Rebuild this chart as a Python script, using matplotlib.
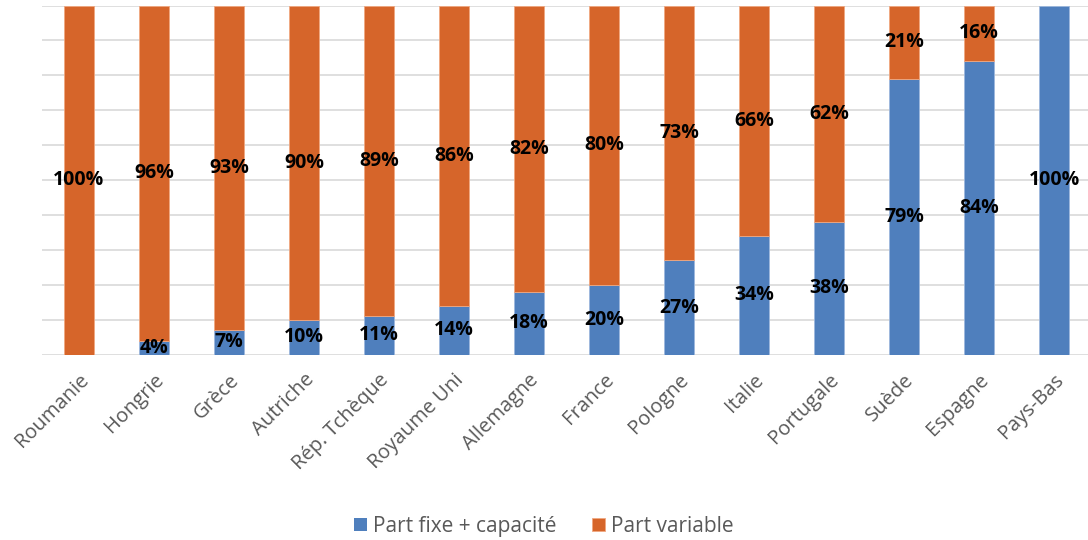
import matplotlib.pyplot as plt
import numpy as np

plt.rcParams['font.family'] = ['Open Sans', 'DejaVu Sans']

pays = ["Roumanie", "Hongrie", "Grèce", "Autriche", "Rép. Tchèque", "Royaume Uni",
        "Allemagne", "France", "Pologne", "Italie", "Portugale", "Suède", "Espagne", "Pays-Bas"]
part_fixe = [0, 4, 7, 10, 11, 14, 18, 20, 27, 34, 38, 79, 84, 100]
part_variable = [100, 96, 93, 90, 89, 86, 82, 80, 73, 66, 62, 21, 16, 0]

bleu = "#4F7FBD"
orange = "#D6652A"

fig = plt.figure(figsize=(10.88, 5.40), dpi=100)
# axe volontairement plus large que la figure (la référence est coupée à droite)
ax = fig.add_axes([41.5 / 1088, 0.3432, 1050 / 1088, 0.6466])

x = np.arange(len(pays))
fixe = np.array(part_fixe) / 100
var = np.array(part_variable) / 100
larg = 0.41
# pas de bordure sur les segments de hauteur nulle
ax.bar(x, fixe, larg, color=bleu, edgecolor="#9DB8DD",
       linewidth=[0.6 if v > 0 else 0 for v in part_fixe],
       label="Part fixe + capacité", zorder=3)
ax.bar(x, var, larg, bottom=fixe, color=orange, edgecolor="#F0A880",
       linewidth=[0.6 if v > 0 else 0 for v in part_variable],
       label="Part variable", zorder=3)

# étiquettes au centre de chaque segment
for i in range(len(pays)):
    if part_fixe[i] > 0:
        ax.text(x[i], fixe[i] / 2, f"{part_fixe[i]}%", ha="center", va="center",
                fontsize=14, fontweight="bold", color="black", zorder=4)
    if part_variable[i] > 0:
        ax.text(x[i], fixe[i] + var[i] / 2, f"{part_variable[i]}%", ha="center", va="center",
                fontsize=14, fontweight="bold", color="black", zorder=4)

ax.set_xlim(-0.5, len(pays) - 0.5)
ax.set_ylim(0, 1)
ax.set_yticks(np.linspace(0, 1, 11))
ax.set_yticklabels([])
ax.tick_params(axis="y", length=0)
ax.tick_params(axis="x", length=0, pad=11)
ax.grid(axis="y", color="#D9D9D9", linewidth=1.2, zorder=0)
for s in ax.spines.values():
    s.set_visible(False)

ax.set_xticks(x)
ax.set_xticklabels(pays, rotation=45, ha="right", rotation_mode="anchor",
                   fontsize=14.5, color="#595959")

fig.legend(loc="center", bbox_to_anchor=(0.5, 0.025), ncol=2, frameon=False,
           fontsize=15, labelcolor="#595959", handlelength=0.62, handleheight=0.62,
           handletextpad=0.3, columnspacing=1.7)

fig.savefig("out.png", dpi=100)
